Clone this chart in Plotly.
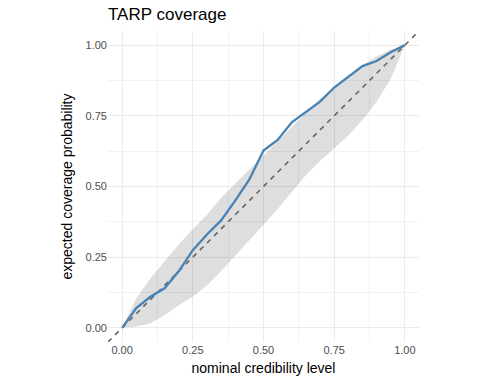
import plotly.graph_objects as go

# nominal credibility levels
alpha = [0.00, 0.05, 0.10, 0.15, 0.20, 0.25, 0.30, 0.35, 0.40, 0.45, 0.50,
         0.55, 0.60, 0.65, 0.70, 0.75, 0.80, 0.85, 0.90, 0.95, 1.00]
# expected coverage probability
coverage = [0.000, 0.070, 0.110, 0.140, 0.200, 0.275, 0.330, 0.380, 0.450, 0.525, 0.627,
            0.665, 0.727, 0.765, 0.800, 0.850, 0.887, 0.926, 0.944, 0.975, 1.000]
# uncertainty band
upper = [0.000, 0.105, 0.175, 0.235, 0.295, 0.350, 0.400, 0.460, 0.510, 0.560, 0.610,
         0.660, 0.710, 0.760, 0.810, 0.850, 0.890, 0.930, 0.960, 0.985, 1.000]
lower = [0.000, 0.005, 0.015, 0.045, 0.080, 0.110, 0.150, 0.200, 0.255, 0.310, 0.365,
         0.420, 0.480, 0.540, 0.590, 0.635, 0.680, 0.735, 0.800, 0.880, 1.000]
# identity reference line
ref = [-0.05, 1.05]
ticks = [0, 0.25, 0.5, 0.75, 1.0]
tick_text = ["0.00", "0.25", "0.50", "0.75", "1.00"]

FONT = "Liberation Sans, Arial, sans-serif"

fig = go.Figure()
fig.add_trace(go.Scatter(x=alpha + alpha[::-1], y=upper + lower[::-1], fill="toself",
                         fillcolor="rgba(0,0,0,0.13)", line=dict(width=0),
                         mode="lines", hoverinfo="skip", showlegend=False))
fig.add_trace(go.Scatter(x=ref, y=ref, mode="lines",
                         line=dict(color="#666666", width=1.6, dash="5px,5px"),
                         showlegend=False))
fig.add_trace(go.Scatter(x=alpha, y=coverage, mode="lines",
                         line=dict(color="#4682B4", width=2.3), showlegend=False))

axis_common = dict(range=[-0.05, 1.05], tickvals=ticks, ticktext=tick_text, automargin=False,
                   showgrid=True, gridcolor="#ebebeb", gridwidth=1, zeroline=False,
                   showline=False, ticks="", tickfont=dict(family=FONT, size=11, color="#4d4d4d"),
                   minor=dict(tickvals=[0.125, 0.375, 0.625, 0.875], showgrid=True,
                              gridcolor="#f2f2f2", gridwidth=0.8))

fig.update_layout(
    width=480, height=384,
    margin=dict(l=108, r=61, t=31, b=42),
    plot_bgcolor="white", paper_bgcolor="white",
    title=dict(text="TARP coverage", x=108/480, xanchor="left", y=1 - 14/384, yanchor="middle",
               font=dict(family=FONT, size=17, color="black")),
    xaxis=dict(**axis_common, title=dict(text="nominal credibility level", standoff=8,
                                         font=dict(family=FONT, size=14, color="black"))),
    yaxis=dict(**axis_common, title=dict(text="expected coverage probability", standoff=9,
                                         font=dict(family=FONT, size=14, color="black"))),
)
fig.write_html("out.html")
